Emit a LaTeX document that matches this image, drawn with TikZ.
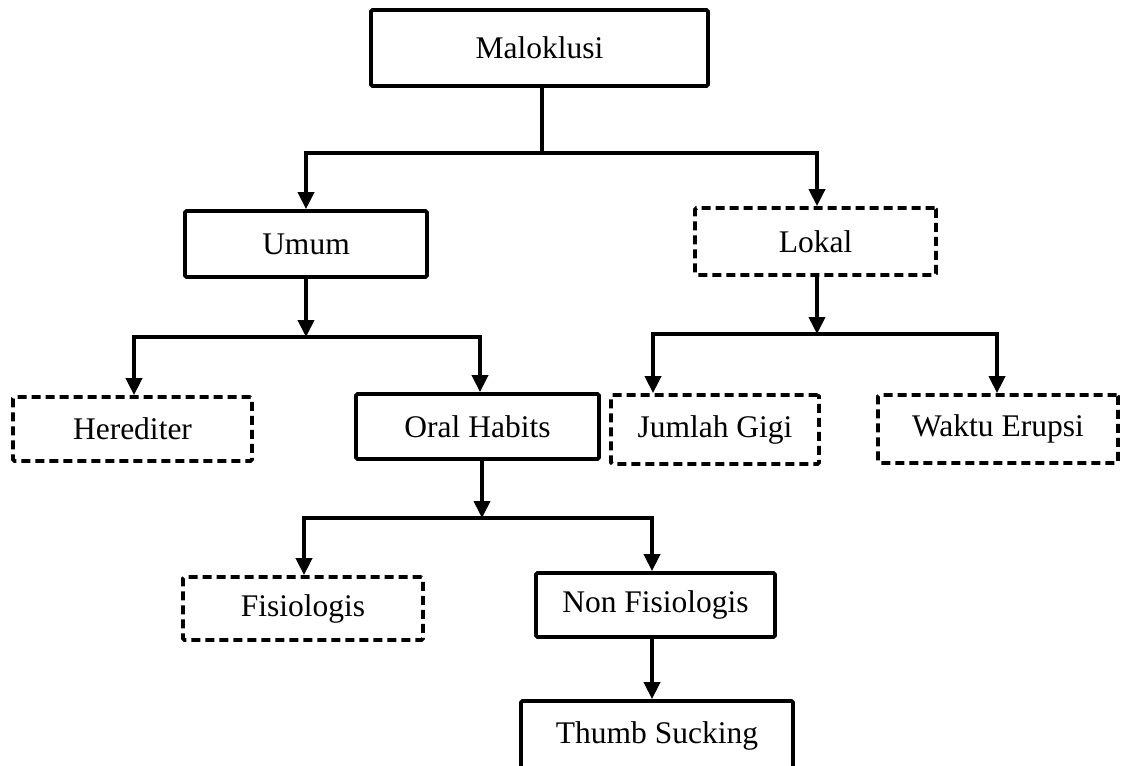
\documentclass[tikz,border=0pt]{standalone}
\usepackage{fontspec}
\setmainfont{Liberation Serif}
\usetikzlibrary{arrows.meta}
\tikzset{
  basebox/.style={draw, line width=3.8pt, rounded corners=1.5pt, inner sep=0pt, fill=white,
    font=\fontsize{31.5}{36}\selectfont},
  solidbox/.style={basebox},
  dashbox/.style={basebox, dash pattern=on 9pt off 5pt},
  conn/.style={line width=3.8pt},
  arr/.style={conn, -{Triangle[length=17pt,width=16pt]}},
}
\begin{document}
\begin{tikzpicture}[x=1pt,y=-1pt]
\useasboundingbox (0,0) rectangle (1126,765);
\clip (0,0) rectangle (1126,765);
% nodes
\node[solidbox, minimum width=337pt, minimum height=76pt] (m) at (539.5,48) {Maloklusi};
\node[solidbox, minimum width=242pt, minimum height=66pt] (u) at (306,244) {Umum};
\node[dashbox, minimum width=241pt, minimum height=67pt] (l) at (815.5,241.5) {Lokal};
\node[dashbox, minimum width=239pt, minimum height=64pt] (h) at (132.5,429) {Herediter};
\node[solidbox, minimum width=243pt, minimum height=65pt] (o) at (477.5,426.5) {Oral Habits};
\node[dashbox, minimum width=208pt, minimum height=69pt] (jg) at (715,429.5) {Jumlah Gigi};
\node[dashbox, minimum width=240pt, minimum height=68pt] (w) at (998,429) {Waktu Erupsi};
\node[dashbox, minimum width=240pt, minimum height=63pt] (f) at (303,608.5) {Fisiologis};
\node[solidbox, minimum width=239pt, minimum height=64pt] (n) at (655.5,605) {Non Fisiologis};
\node[solidbox, minimum width=272pt, minimum height=70pt] (t) at (657,736) {Thumb Sucking};
% junction points
\coordinate (j1) at (542,153);
\coordinate (j2) at (306,337);
\coordinate (j3) at (817,334);
\coordinate (j4) at (482,518);
% connectors
\draw[conn] ([xshift=2.5pt]m.south) -- (j1);
\draw[arr] (j1) -| (u.north);
\draw[arr] (j1) -| ([xshift=1.5pt]l.north);
\draw[arr] (u.south) -- (j2);
\draw[arr] (j2) -| ([xshift=1.5pt]h.north);
\draw[arr] (j2) -| ([xshift=2.5pt]o.north);
\draw[arr] ([xshift=1.5pt]l.south) -- (j3);
\draw[arr] (j3) -| ([xshift=-62pt]jg.north);
\draw[arr] (j3) -| ([xshift=-1pt]w.north);
\draw[arr] ([xshift=4.5pt]o.south) -- (j4);
\draw[arr] (j4) -| ([xshift=1pt]f.north);
\draw[arr] (j4) -| ([xshift=-3.5pt]n.north);
\draw[arr] ([xshift=-3.5pt]n.south) -- ([xshift=-5pt]t.north);
\end{tikzpicture}
\end{document}
